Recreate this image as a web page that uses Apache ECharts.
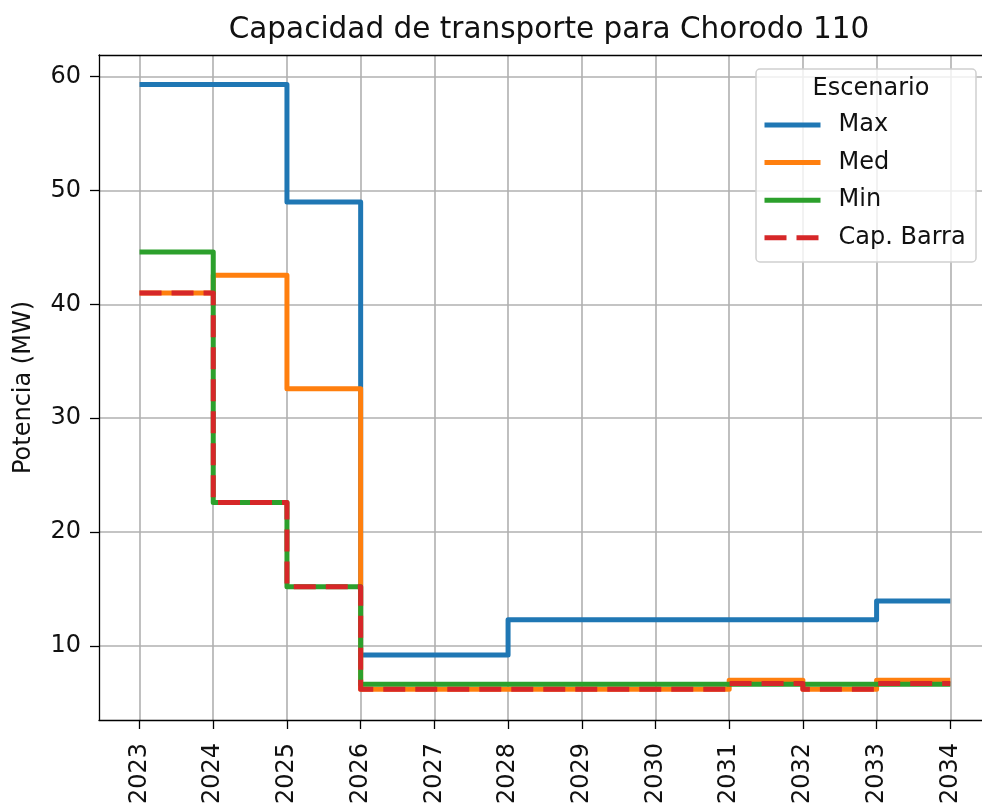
<!DOCTYPE html>
<html lang="es">
<head>
  <meta charset="UTF-8">
  <title>Capacidad de transporte</title>
  <script src="https://cdn.jsdelivr.net/npm/echarts@6.0.0/dist/echarts.min.js"></script>
  <style>
    html, body { margin: 0; padding: 0; background: #fff; }
    #chart { width: 982px; height: 804px; }
  </style>
</head>
<body>
<div id="chart"></div>
<script>
  // datos
  var years = [2023, 2024, 2025, 2026, 2027, 2028, 2029, 2030, 2031, 2032, 2033, 2034];
  var maxVals = [59.3, 59.3, 49.0, 9.2, 9.2, 12.3, 12.3, 12.3, 12.3, 12.3, 13.95, 13.95];
  var medVals = [41.0, 42.55, 32.6, 6.2, 6.2, 6.2, 6.2, 6.2, 7.0, 6.2, 7.0, 7.0];
  var minVals = [44.6, 22.6, 15.2, 6.65, 6.65, 6.65, 6.65, 6.65, 6.65, 6.65, 6.65, 6.65];
  var capVals = [41.0, 22.6, 15.2, 6.2, 6.2, 6.2, 6.2, 6.2, 6.7, 6.2, 6.7, 6.7];
  var yTicks = [10, 20, 30, 40, 50, 60];
  var seriesNames = ['Max', 'Med', 'Min', 'Cap. Barra'];
  var colors = ['#1f77b4', '#ff7f0e', '#2ca02c', '#d62728'];

  var font = 'DejaVu Sans';
  var fs = 24;

  function pairs(vals) {
    var out = [];
    for (var i = 0; i < years.length; i++) {
      out.push([years[i], vals[i]]);
    }
    return out;
  }

  function buildSerie(name, vals, color, dashed) {
    return {
      name: name,
      type: 'line',
      step: 'end',
      symbol: 'none',
      data: pairs(vals),
      lineStyle: {
        color: color,
        width: 5,
        type: dashed ? [22, 10] : 'solid',
        join: 'round'
      },
      itemStyle: { color: color }
    };
  }

  var chart = echarts.init(document.getElementById('chart'));
  var option = {
    animation: false,
    color: colors,
    title: [
      {
        text: 'Capacidad de transporte para Chorodo 110',
        left: 544,
        top: 10,
        textAlign: 'center',
        textStyle: { fontFamily: font, fontSize: 29.5, fontWeight: 'normal', color: '#111' }
      },
      {
        text: 'Escenario',
        left: 866,
        top: 72,
        textAlign: 'center',
        z: 100,
        textStyle: { fontFamily: font, fontSize: fs, fontWeight: 'normal', color: '#111' }
      }
    ],
    graphic: [{
      type: 'rect',
      z: 50,
      shape: { x: 756, y: 69, width: 220, height: 193, r: 4 },
      style: { fill: 'rgba(255,255,255,0.8)', stroke: '#d0d0d0', lineWidth: 1.5 }
    }],
    legend: {
      data: seriesNames,
      orient: 'vertical',
      left: 762,
      top: 112,
      padding: 0,
      itemWidth: 56,
      itemHeight: 14,
      itemGap: 11.6,
      z: 100,
      selectedMode: false,
      itemStyle: { opacity: 0 },
      lineStyle: { width: 5 },
      textStyle: {
        fontFamily: font,
        fontSize: fs,
        color: '#111',
        lineHeight: 26,
        padding: [0, 0, 0, 13]
      }
    },
    grid: {
      left: 99,
      right: 0,
      top: 55,
      bottom: 84,
      show: false,
      outerBoundsMode: 'none'
    },
    xAxis: [{
      type: 'value',
      min: 2022.45,
      max: 2034.43,
      minInterval: 1,
      maxInterval: 1,
      splitNumber: 12,
      axisLine: { show: true, onZero: false, lineStyle: { color: '#000', width: 1.3 } },
      axisTick: { show: true, length: 9, customValues: years, lineStyle: { color: '#000', width: 1.3 } },
      axisLabel: {
        customValues: years,
        rotate: 90,
        margin: 23,
        fontFamily: font,
        fontSize: fs,
        color: '#111',
        formatter: function (v) { return String(v); }
      },
      splitLine: { show: true, lineStyle: { color: '#b0b0b0', width: 1.6 } }
    }, {
      // solo el borde superior del marco
      type: 'value',
      position: 'top',
      min: 2022.45,
      max: 2034.43,
      axisLine: { show: true, onZero: false, lineStyle: { color: '#000', width: 1.3 } },
      axisTick: { show: false },
      axisLabel: { show: false },
      splitLine: { show: false }
    }],
    yAxis: {
      type: 'value',
      min: 3.5,
      max: 61.9,
      minInterval: 10,
      maxInterval: 10,
      splitNumber: 6,
      name: 'Potencia (MW)',
      nameLocation: 'middle',
      nameGap: 63,
      nameTextStyle: { fontFamily: font, fontSize: fs, color: '#111' },
      axisLine: { show: true, onZero: false, lineStyle: { color: '#000', width: 1.3 } },
      axisTick: { show: true, length: 9, customValues: yTicks, lineStyle: { color: '#000', width: 1.3 } },
      axisLabel: {
        customValues: yTicks,
        margin: 18,
        fontFamily: font,
        fontSize: fs,
        color: '#111'
      },
      splitLine: { show: true, lineStyle: { color: '#b0b0b0', width: 1.6 } }
    },
    series: [
      buildSerie(seriesNames[0], maxVals, colors[0], false),
      buildSerie(seriesNames[1], medVals, colors[1], false),
      buildSerie(seriesNames[2], minVals, colors[2], false),
      buildSerie(seriesNames[3], capVals, colors[3], true)
    ]
  };
  chart.setOption(option);
</script>
</body>
</html>
